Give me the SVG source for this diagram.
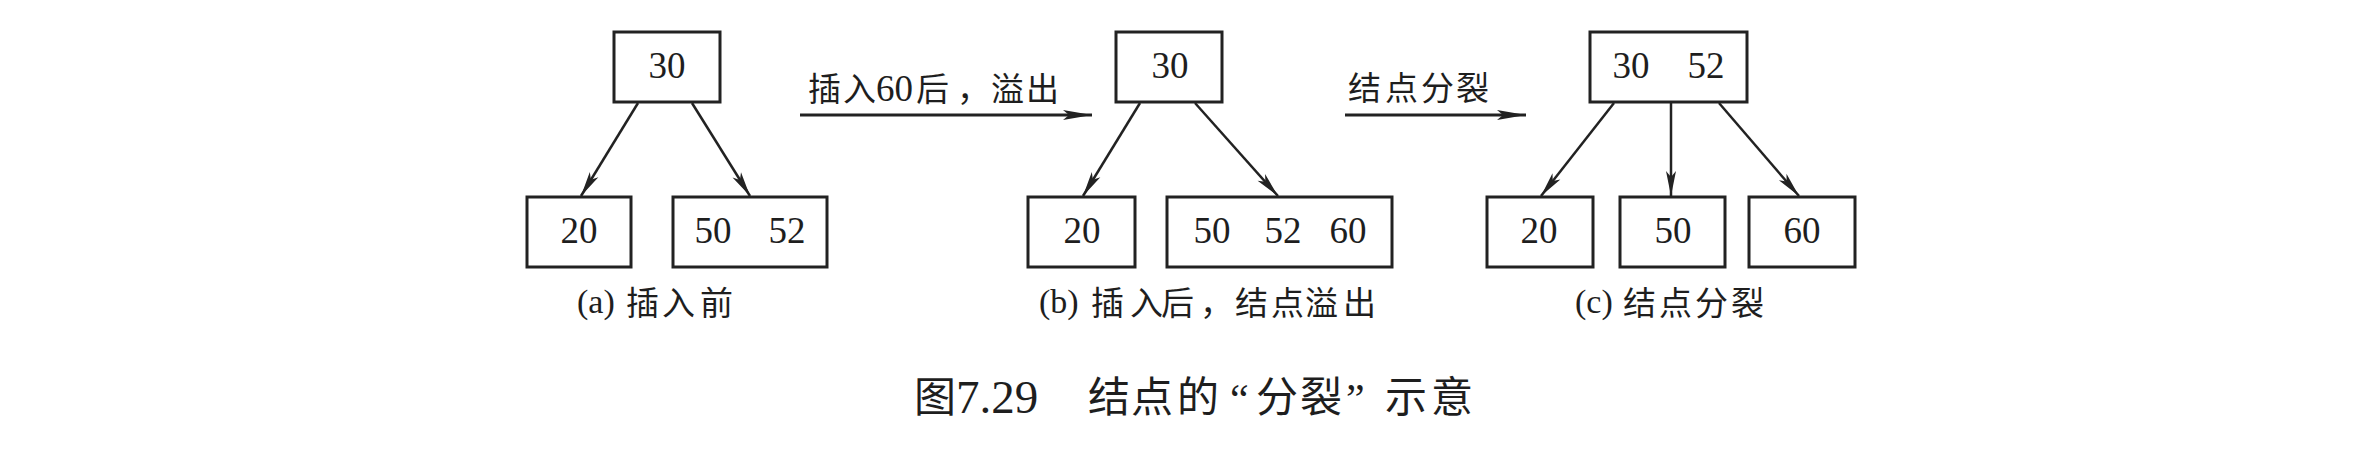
<svg xmlns="http://www.w3.org/2000/svg" width="2370" height="454" viewBox="0 0 2370 454">
<style>
.box{fill:#fff;stroke:#222;stroke-width:3}
.num{font-family:"Liberation Serif","Times New Roman",serif;font-size:37px;fill:#1e1e1e;text-anchor:middle}
.lat{font-family:"Liberation Serif","Times New Roman",serif;fill:#1e1e1e}
.cjk{font-family:"Noto Sans CJK SC","Noto Sans CJK TC",sans-serif;fill:#1e1e1e}
.edge{stroke:#222;stroke-width:2.5;fill:none;marker-end:url(#ah)}
.trans{stroke:#222;stroke-width:3;fill:none;marker-end:url(#ah2)}
</style>
<defs>
<marker id="ah" markerUnits="userSpaceOnUse" markerWidth="28" markerHeight="12" viewBox="-26 -6 28 12" refX="0" refY="0" orient="auto" overflow="visible">
<path d="M0,0 L-25,-5 L-19,0 L-25,5 Z" fill="#222"/>
</marker>
<marker id="ah2" markerUnits="userSpaceOnUse" markerWidth="32" markerHeight="12" viewBox="-30 -6 32 12" refX="0" refY="0" orient="auto" overflow="visible">
<path d="M0,0 L-29,-5 L-23,0 L-29,5 Z" fill="#222"/>
</marker>
</defs>
<rect width="2370" height="454" fill="#fff"/>

<g id="connectors">
<line class="edge" x1="638" y1="103" x2="581" y2="196"/>
<line class="edge" x1="692" y1="103" x2="750" y2="196"/>
<line class="edge" x1="1140" y1="103" x2="1083" y2="196"/>
<line class="edge" x1="1195" y1="103" x2="1278" y2="196"/>
<line class="edge" x1="1614" y1="103" x2="1541" y2="196"/>
<line class="edge" x1="1671" y1="103" x2="1671" y2="196"/>
<line class="edge" x1="1719" y1="103" x2="1799" y2="196"/>
<line class="trans" x1="800" y1="115" x2="1092" y2="115"/>
<line class="trans" x1="1345" y1="115" x2="1526" y2="115"/>
</g>

<g id="a-root"><rect class="box" x="614" y="32" width="106" height="70"/><text class="num" x="667" y="78">30</text></g>
<g id="a-left"><rect class="box" x="527" y="197" width="104" height="70"/><text class="num" x="579" y="243">20</text></g>
<g id="a-right"><rect class="box" x="673" y="197" width="154" height="70"/><text class="num" x="713" y="243">50</text><text class="num" x="787" y="243">52</text></g>

<g id="b-root"><rect class="box" x="1116" y="32" width="106" height="70"/><text class="num" x="1170" y="78">30</text></g>
<g id="b-left"><rect class="box" x="1028" y="197" width="107" height="70"/><text class="num" x="1082" y="243">20</text></g>
<g id="b-right"><rect class="box" x="1167" y="197" width="225" height="70"/><text class="num" x="1212" y="243">50</text><text class="num" x="1283" y="243">52</text><text class="num" x="1348" y="243">60</text></g>

<g id="c-root"><rect class="box" x="1590" y="32" width="157" height="70"/><text class="num" x="1631" y="78">30</text><text class="num" x="1706" y="78">52</text></g>
<g id="c-left"><rect class="box" x="1487" y="197" width="106" height="70"/><text class="num" x="1539" y="243">20</text></g>
<g id="c-mid"><rect class="box" x="1620" y="197" width="105" height="70"/><text class="num" x="1673" y="243">50</text></g>
<g id="c-right"><rect class="box" x="1749" y="197" width="106" height="70"/><text class="num" x="1802" y="243">60</text></g>

<g id="label-insert">
<text class="cjk" font-size="33" x="808 843" y="101">插入</text>
<text class="lat" font-size="37" x="876" y="101">60</text>
<text class="cjk" font-size="33" x="916 957 991 1026" y="101">后，溢出</text>
</g>
<g id="label-split">
<text class="cjk" font-size="33" x="1348 1385 1421 1456" y="100">结点分裂</text>
</g>

<g id="caption-a">
<text class="lat" font-size="34" x="577" y="313">(a)</text>
<text class="cjk" font-size="33" x="626 662 700" y="315">插入前</text>
</g>
<g id="caption-b">
<text class="lat" font-size="34" x="1039" y="313">(b)</text>
<text class="cjk" font-size="33" x="1091 1130 1161 1200 1235 1271 1305 1343" y="315">插入后，结点溢出</text>
</g>
<g id="caption-c">
<text class="lat" font-size="34" x="1575" y="313">(c)</text>
<text class="cjk" font-size="33" x="1623 1659 1695 1731" y="315">结点分裂</text>
</g>

<g id="title">
<text class="cjk" font-size="42" x="914" y="412">图</text>
<text class="lat" font-size="47" x="956" y="413">7.29</text>
<text class="cjk" font-size="42" x="1088 1131 1177" y="412">结点的</text>
<text class="lat" font-size="42" x="1230" y="413">“</text>
<text class="cjk" font-size="42" x="1256 1300" y="412">分裂</text>
<text class="lat" font-size="42" x="1346" y="413">”</text>
<text class="cjk" font-size="42" x="1385 1431" y="412">示意</text>
</g>
</svg>
